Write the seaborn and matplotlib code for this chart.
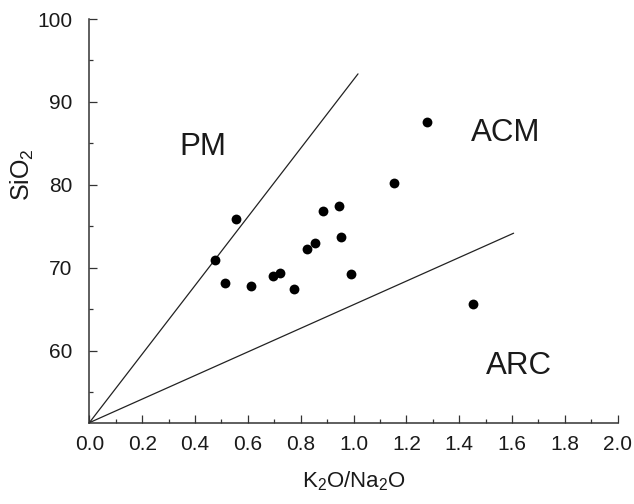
import numpy as np
import pandas as pd
import matplotlib
matplotlib.use("Agg")
import matplotlib.pyplot as plt
import seaborn as sns
from matplotlib.ticker import MultipleLocator

# K2O/Na2O vs SiO2 samples
k2o_na2o = [0.555, 0.475, 0.512, 0.612, 0.694, 0.723, 0.774, 0.823,
            0.854, 0.886, 0.944, 0.953, 0.992, 1.154, 1.277, 1.453]
sio2 = [75.85, 70.98, 68.2, 67.77, 68.97, 69.37, 67.4, 72.23,
        72.96, 76.85, 77.45, 73.68, 69.22, 80.23, 87.62, 65.67]

# field boundaries (start at the origin of the diagram)
pm_acm_x = [0.0, 1.017]
pm_acm_y = [51.3, 93.38]
acm_arc_x = [0.0, 1.606]
acm_arc_y = [51.3, 74.16]

field_names = ["PM", "ACM", "ARC"]
field_x = [0.428, 1.577, 1.626]
field_y = [84.6, 86.2, 58.2]

xtick_vals = np.arange(0, 2.01, 0.2)
ytick_vals = [60, 70, 80, 90, 100]

sns.set_style("ticks")
plt.rcParams['font.family'] = ['Liberation Sans', 'DejaVu Sans']
plt.rcParams['mathtext.fontset'] = 'custom'
plt.rcParams['mathtext.rm'] = 'Liberation Sans'
plt.rcParams['mathtext.it'] = 'Liberation Sans:italic'

fig = plt.figure(figsize=(6.34, 5.04), dpi=100)
ax = fig.add_axes([0.1409, 0.1613, 0.9743 - 0.1409, 0.9623 - 0.1613])

df = pd.DataFrame({"ratio": k2o_na2o, "sio2": sio2})
lines = pd.DataFrame({"x": pm_acm_x + acm_arc_x,
                      "y": pm_acm_y + acm_arc_y,
                      "line": ["a", "a", "b", "b"]})

sns.lineplot(data=lines, x="x", y="y", units="line", estimator=None,
             sort=False, color="#222222", linewidth=0.9, ax=ax)
sns.scatterplot(data=df, x="ratio", y="sio2", color="black", s=50,
                edgecolor="black", linewidth=0, ax=ax, zorder=3)

for name, fx, fy in zip(field_names, field_x, field_y):
    ax.text(fx, fy, name, fontsize=22.5, ha="center", va="center", color="#1a1a1a")

ax.set_xlim(0, 2.0)
ax.set_ylim(51.3, 100)
ax.set_xticks(xtick_vals)
ax.set_xticklabels(["%.1f" % v for v in xtick_vals])
ax.set_yticks(ytick_vals)
ax.xaxis.set_minor_locator(MultipleLocator(0.1))
ax.yaxis.set_minor_locator(MultipleLocator(5))

ax.tick_params(axis="both", which="major", direction="in", length=6, width=0.9,
               labelsize=15, colors="#333333", labelcolor="#1a1a1a")
ax.tick_params(axis="both", which="minor", direction="in", length=3, width=0.9,
               colors="#333333")
ax.tick_params(axis="x", which="major", pad=9)
ax.tick_params(axis="y", which="major", pad=12)

for side in ["top", "right"]:
    ax.spines[side].set_visible(False)
for side in ["left", "bottom"]:
    ax.spines[side].set_linewidth(1.1)
    ax.spines[side].set_color("#333333")

ax.set_xlabel(r"K$_\mathregular{2}$O/Na$_\mathregular{2}$O", fontsize=16,
              labelpad=11, color="#1a1a1a")
ax.set_ylabel(r"SiO$_\mathregular{2}$", fontsize=18, color="#1a1a1a")
ax.yaxis.set_label_coords(-0.100, 0.614)

fig.savefig("out.png", dpi=100)
